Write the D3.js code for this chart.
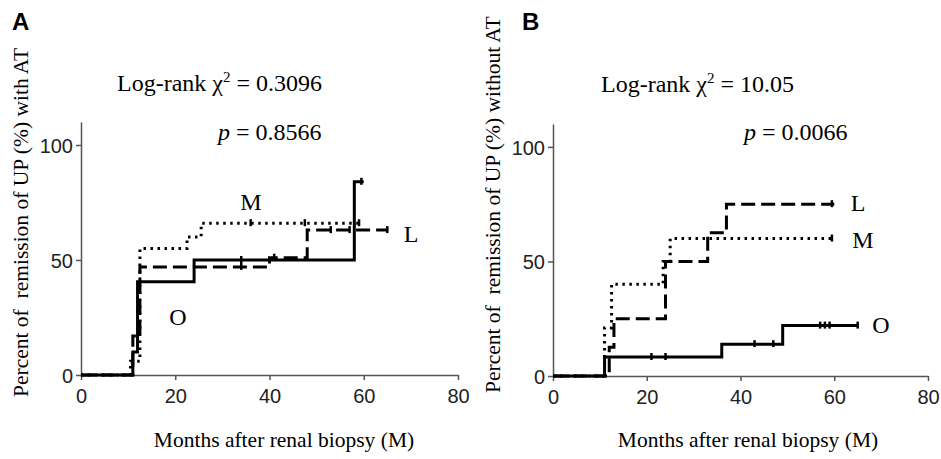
<!DOCTYPE html>
<html>
<head>
<meta charset="utf-8">
<script src="https://cdn.jsdelivr.net/npm/d3@7"></script>
<style>
  body { margin: 0; background: #fff; }
  svg { display: block; }
  text { white-space: pre; }
</style>
</head>
<body>
<svg id="chart" width="941" height="459"></svg>
<script>
// Tick values shared by both panels.
var xTicks = [0, 20, 40, 60, 80];
var yTicks = [0, 50, 100];

// Panel A (with AT): [month, percent] step points.
var oWithAT = [[0, 0], [11, 10], [12, 40.5], [24, 50], [58, 84], [60, 84]];
var mWithAT = [[0, 0], [10.5, 6], [12.5, 55], [22.5, 60], [25.5, 66], [59, 66]];
var lWithAT = [[0, 0], [11, 17], [12.5, 47], [40, 51], [48, 63], [65, 63]];
var oWithATCensor = [34, 59.5];
var mWithATCensor = [36, 47.5, 59];
var lWithATCensor = [34, 41, 53, 57, 65];

// Panel B (without AT).
var oWithoutAT = [[0, 0], [11, 8.3], [36, 13.9], [49, 22], [65, 22]];
var mWithoutAT = [[0, 0], [11, 21], [12.5, 40], [23.5, 50], [25, 60], [60, 60]];
var lWithoutAT = [[0, 0], [12, 12.5], [13, 25], [24, 50], [33, 62.5], [37, 75], [60, 75]];
var oWithoutATCensor = [21, 24, 43, 47, 57, 58, 59, 65];
var mWithoutATCensor = [59.5];
var lWithoutATCensor = [59.5];

var svg = d3.select('#chart');
var serif = '"Liberation Serif", "Times New Roman", serif';
var sans = '"Liberation Sans", Arial, sans-serif';

// line styles for the three groups
var styles = {
  O: { width: 3, dash: null },
  L: { width: 3, dash: '14,6' },
  M: { width: 3, dash: '2.5,4.5' }
};

function valueAt(points, t) {
  var v = 0;
  points.forEach(function(p) { if (p[0] <= t) v = p[1]; });
  return v;
}

/**
 * Draws one Kaplan-Meier style panel.
 */
function drawPanel(p) {
  var x = d3.scaleLinear().domain([0, 80]).range([p.left, p.right]);
  var y = d3.scaleLinear().domain([0, 110]).range([p.bottom, p.top]);

  var g = svg.append('g');

  // Axes.
  var xAxis = d3.axisBottom(x).tickValues(xTicks).tickSize(5).tickPadding(4).tickSizeOuter(0);
  var yAxis = d3.axisLeft(y).tickValues(yTicks).tickSize(5).tickPadding(3).tickSizeOuter(0);

  var gx = g.append('g').attr('transform', 'translate(0,' + p.bottom + ')').call(xAxis);
  var gy = g.append('g').attr('transform', 'translate(' + p.left + ',0)').call(yAxis);

  [gx, gy].forEach(function(a) {
    a.selectAll('path, line').attr('stroke', '#555').attr('stroke-width', 1.5);
    a.selectAll('text')
      .attr('fill', '#222')
      .style('font-family', sans)
      .style('font-size', '20px');
  });
  gx.selectAll('text').attr('dy', '0.95em');
  gy.selectAll('text').attr('dy', '0.36em');

  // Curves.
  var line = d3.line()
    .x(function(d) { return x(d[0]); })
    .y(function(d) { return y(d[1]); })
    .curve(d3.curveStepAfter);

  p.series.forEach(function(s) {
    var st = styles[s.name];
    g.append('path')
      .datum(s.values)
      .attr('d', line)
      .attr('fill', 'none')
      .attr('stroke', '#000')
      .attr('stroke-width', st.width)
      .attr('stroke-dasharray', st.dash);

    // censor ticks
    g.selectAll(null)
      .data(s.censor)
      .enter().append('line')
      .attr('x1', function(d) { return x(d); })
      .attr('x2', function(d) { return x(d); })
      .attr('y1', function(d) { return y(valueAt(s.values, d)) - 4; })
      .attr('y2', function(d) { return y(valueAt(s.values, d)) + 3; })
      .attr('stroke', '#000')
      .attr('stroke-width', 2.5);

    g.append('text')
      .attr('x', s.label[0])
      .attr('y', s.label[1])
      .attr('text-anchor', 'middle')
      .attr('dy', '0.35em')
      .style('font-family', serif)
      .style('font-size', '24px')
      .text(s.name);
  });

  // Panel letter.
  g.append('text')
    .attr('x', p.letterX)
    .attr('y', 30)
    .style('font-family', sans)
    .style('font-weight', 'bold')
    .style('font-size', '24px')
    .text(p.letter);

  // Statistics.
  var lr = g.append('text')
    .attr('x', p.lrX)
    .attr('y', p.lrY)
    .style('font-family', serif)
    .style('font-size', '24px');
  lr.append('tspan').text('Log-rank \u03c7');
  lr.append('tspan').attr('dy', -9).style('font-size', '15px').text('2');
  lr.append('tspan').attr('dy', 9).text(' = ' + p.chi);

  var pv = g.append('text')
    .attr('x', p.pX)
    .attr('y', 140)
    .style('font-family', serif)
    .style('font-size', '24px');
  pv.append('tspan').style('font-style', 'italic').text('p');
  pv.append('tspan').text(' = ' + p.pValue);

  // Axis titles.
  g.append('text')
    .attr('x', p.xTitleX)
    .attr('y', 447)
    .attr('text-anchor', 'middle')
    .style('font-family', serif)
    .style('font-size', '21.5px')
    .text('Months after renal biopsy (M)');

  g.append('text')
    .attr('transform', 'translate(' + p.yTitleX + ',' + p.yTitleBottom + ') rotate(-90)')
    .attr('text-anchor', 'start')
    .style('font-family', serif)
    .style('font-size', '21.5px')
    .text(p.yTitle);
}

drawPanel({
  left: 81, right: 458, top: 122, bottom: 375,
  letter: 'A', letterX: 12,
  chi: '0.3096', lrX: 117, lrY: 91,
  pValue: '0.8566', pX: 218,
  xTitleX: 284,
  yTitle: 'Percent of  remission of UP (%) with AT', yTitleX: 28, yTitleBottom: 397,
  series: [
    { name: 'O', values: oWithAT, censor: oWithATCensor, label: [178, 317] },
    { name: 'M', values: mWithAT, censor: mWithATCensor, label: [251, 202] },
    { name: 'L', values: lWithAT, censor: lWithATCensor, label: [411, 234] }
  ]
});

drawPanel({
  left: 553, right: 928, top: 124, bottom: 376,
  letter: 'B', letterX: 522,
  chi: '10.05', lrX: 601, lrY: 92,
  pValue: '0.0066', pX: 744,
  xTitleX: 748,
  yTitle: 'Percent of  remission of UP (%) without AT', yTitleX: 500, yTitleBottom: 393,
  series: [
    { name: 'O', values: oWithoutAT, censor: oWithoutATCensor, label: [881, 325] },
    { name: 'M', values: mWithoutAT, censor: mWithoutATCensor, label: [863, 240] },
    { name: 'L', values: lWithoutAT, censor: lWithoutATCensor, label: [858, 203] }
  ]
});
</script>
</body>
</html>
